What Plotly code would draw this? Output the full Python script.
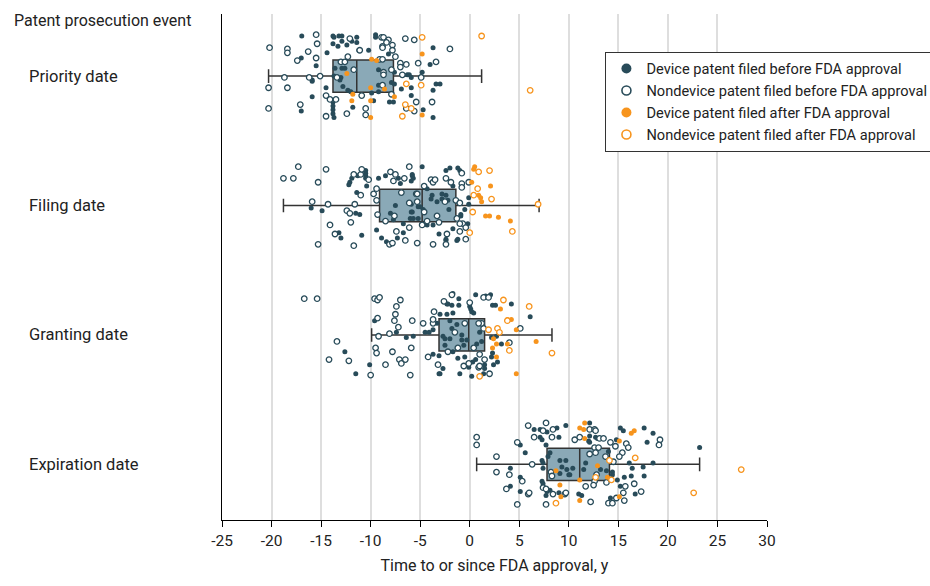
import plotly.graph_objects as go

# ---------------- data ----------------
row_labels = ["Priority date", "Filing date", "Granting date", "Expiration date"]
row_pos = [3, 2, 1, 0]

# box statistics (years)
box_lowerfence = [-20.3, -18.8, -9.9, 0.7]
box_q1 = [-13.8, -9.1, -3.1, 7.8]
box_median = [-11.4, -4.8, -0.1, 11.1]
box_q3 = [-7.7, -1.4, 1.5, 14.1]
box_upperfence = [1.2, 7.0, 8.3, 23.2]

x_ticks = [-25, -20, -15, -10, -5, 0, 5, 10, 15, 20, 25, 30]
x_tick_labels = ["-25", "-20", "-15", "-10", "-5", "0", "5", "10", "15", "20", "25", "30"]

group_names = ["Device patent filed before FDA approval",
               "Nondevice patent filed before FDA approval",
               "Device patent filed after FDA approval",
               "Nondevice patent filed after FDA approval"]

# ---- Priority date ----
pri_dev_before_x = [-16.95, -13.8, -13.7, -13.2, -12.9, -11.9, -11.4, -11.4, -11.2, -13.8, -13.3, -12.9, -12.4,
                    -14.4, -17.0, -15.5, -10.2, -9.5, -9.5, -15.9, -15.9, -14.5, -15.9, -17.0, -13.8, -13.8, -13.8,
                    -13.8, -13.7, -11.8, -13.6, -12.9, -12.6, -13.1, -12.8, -12.3, -12.0, -9.9, -9.7, -9.2, -9.2,
                    -9.2, -8.2, -4.0, -4.8, -6.3, -6.1, -5.9, -7.6, -7.9, -7.6, -3.4, -3.0, -3.7, -5.9, -6.9, -5.9,
                    -8.1, -7.7, -4.7, -3.7, -3.7, -13.7, -13.0]
pri_dev_before_dy = [0.31, 0.31, 0.30, 0.31, 0.31, 0.27, 0.30, 0.26, 0.20, 0.25, 0.23, 0.27, 0.24,
                     0.18, 0.14, 0.08, 0.20, 0.32, 0.30, -0.03, -0.04, -0.09, -0.16, -0.27, -0.20, -0.23, -0.26,
                     -0.29, -0.32, -0.24, 0.06, 0.06, 0.06, -0.03, -0.08, -0.11, -0.12, -0.13, -0.19, 0.05, -0.07,
                     -0.12, 0.17, 0.09, 0.03, 0.01, 0.01, -0.01, 0.03, -0.05, -0.06, -0.06, -0.06, -0.11, -0.09, -0.10, -0.15,
                     -0.20, -0.20, -0.26, -0.32, 0.22, 0.00, -0.01]
pri_nondev_before_x = [-15.5, -12.1, -11.1, -20.2, -18.4, -18.4, -15.4, -16.3, -17.4, -15.5, -12.3, -13.0, -12.6,
                       -20.3, -18.4, -18.7, -16.2, -15.1, -14.5, -14.1, -13.5, -17.1, -20.3, -14.5, -12.4, -10.5,
                       -10.5, -10.9, -11.7, -13.4, -8.9, -8.7, -8.2, -8.4, -7.8, -8.8, -8.8, -7.8, -7.5, -6.5, -5.6,
                       -2.0, -3.4, -5.2, -6.4, -7.0, -7.0, -6.8, -4.9, -7.9, -5.4, -3.8, -6.4, -5.6, -9.1, -8.8,
                       -8.7, -8.7, -7.9, -8.8]
pri_nondev_before_dy = [0.32, 0.29, 0.20, 0.22, 0.21, 0.18, 0.25, 0.19, 0.12, 0.14, 0.15, 0.11, 0.11,
                        -0.09, -0.09, -0.01, -0.01, 0.00, -0.15, -0.18, -0.18, -0.22, -0.25, -0.31, -0.29, -0.25,
                        -0.30, -0.15, 0.05, -0.01, 0.30, 0.30, 0.28, 0.26, 0.24, 0.23, 0.22, 0.20, 0.15, 0.29, 0.28,
                        0.21, 0.11, 0.10, 0.09, 0.10, 0.07, 0.01, -0.01, -0.14, -0.20, -0.20, -0.25, -0.27, 0.13, 0.13,
                        0.03, 0.01, 0.05, -0.07]
pri_dev_after_x = [-9.9, -9.4, -4.8, -10.0, -12.4, -11.8, -11.9, -10.0, -10.0, -8.6, -7.6, -4.8]
pri_dev_after_dy = [0.13, 0.12, 0.17, -0.32, 0.02, -0.14, -0.19, -0.09, -0.19, -0.10, -0.16, -0.30]
pri_nondev_after_x = [-4.8, 1.2, -6.4, -4.9, -6.5, -5.9, -6.8, 6.1]
pri_nondev_after_dy = [0.30, 0.31, -0.06, -0.07, -0.22, -0.25, -0.31, -0.11]

# ---- Filing date ----
fil_dev_before_x = [-16.0, -14.9, -13.2, -13.0, -11.5, -11.1, -11.4, -10.9, -12.1, -12.2, -11.9, -11.3, -10.5,
                    -10.5, -10.5, -10.5, -10.4, -9.2, -8.5, -7.2, -7.0, -5.8, -5.7, -9.4, -8.9, -8.4, -7.3, -6.7,
                    -7.5, -8.0, -7.7, -6.7, -5.9, -6.0, -5.2, -4.8, -5.8, -5.9, -4.3, -2.4, -2.0, -1.2, -1.0, -1.7,
                    -0.1, -0.1, -0.5, -0.9, -0.9, -0.2, -1.7, -2.4, -2.4, -1.3, -1.2, -3.1, -3.7, -4.3, -5.7,
                    -3.8, -3.9, -3.3, -2.8, -2.8, -2.4, -2.1, -2.2, -5.9, -4.7, -5.0, -5.8, -5.2]
fil_dev_before_dy = [-0.02, -0.04, -0.21, -0.25, -0.06, -0.07, 0.10, -0.23, 0.18, 0.16, 0.21, 0.23, 0.27,
                     0.25, 0.23, 0.21, 0.15, 0.21, 0.23, 0.21, 0.17, 0.23, 0.21, -0.19, -0.25, -0.28, -0.25, -0.21,
                     0.00, -0.06, -0.11, -0.14, -0.05, -0.10, -0.10, 0.30, 0.24, 0.19, 0.13, 0.27, 0.29, 0.29, 0.27, 0.15,
                     0.06, 0.01, -0.03, -0.07, -0.08, -0.14, -0.18, -0.26, -0.27, -0.27, -0.26, -0.22, -0.15, -0.15, -0.10,
                     0.08, 0.05, 0.03, 0.09, 0.05, 0.08, -0.03, 0.04, 0.01, -0.03, -0.01, -0.05, -0.01]
fil_nondev_before_x = [-18.8, -17.8, -17.3, -15.3, -14.5, -15.9, -14.3, -14.1, -13.6, -15.3, -11.7, -12.0, -12.4,
                       -12.1, -11.6, -11.0, -11.7, -11.0, -10.9, -10.2, -9.7, -9.4, -9.4, -8.0, -7.5, -7.7, -6.6,
                       -6.1, -9.3, -8.5, -8.1, -7.8, -7.4, -6.5, -6.1, -5.3, -7.6, -6.1, -5.4, -6.9, -4.6, -3.9,
                       -3.7, -3.5, -0.8, -2.4, -1.9, -0.8, -0.8, -0.1, -1.4, -1.0, -0.7, -1.0, -1.3, -0.4, -2.3,
                       -1.0, -0.4, -2.4, -3.7, -4.8, -4.3, -3.1, -3.3, -4.6, -5.3, -5.3, -2.5]
fil_nondev_before_dy = [0.21, 0.21, 0.30, 0.18, 0.28, 0.03, 0.01, -0.15, -0.22, -0.30, -0.31, -0.13, -0.04,
                        -0.06, 0.01, 0.08, 0.24, 0.24, 0.28, 0.20, 0.09, 0.13, 0.04, 0.26, 0.24, 0.19, 0.21,
                        0.30, -0.07, -0.12, -0.30, -0.29, -0.20, -0.27, -0.17, -0.29, -0.08, 0.02, 0.09, 0.10, 0.15, 0.20,
                        0.18, 0.20, 0.25, 0.21, 0.18, 0.17, 0.14, 0.18, 0.04, 0.02, -0.14, -0.14, -0.10, -0.17, -0.22,
                        -0.20, -0.26, -0.30, -0.30, -0.15, -0.12, -0.13, -0.08, -0.05, 0.09, 0.03, 0.03]
fil_dev_after_x = [0.5, 0.4, 0.2, 2.1, 0.9, 1.1, 1.2, 1.6, 2.0, 2.9, 4.1]
fil_dev_after_dy = [0.30, 0.28, 0.18, 0.15, 0.08, 0.06, 0.03, -0.08, -0.08, -0.09, -0.12]
fil_nondev_after_x = [0.9, 2.0, 0.8, 0.4, 2.2, 0.3, 4.3, 0.0, 6.9]
fil_nondev_after_dy = [0.26, 0.27, 0.13, 0.08, 0.05, -0.05, -0.20, -0.21, 0.01]

# ---- Granting date ----
gra_dev_before_x = [-12.6, -11.5, -10.1, -9.6, -7.4, -6.4, -5.7, -4.5, -4.1, -3.7, -3.3, -3.0, -3.7, -3.1, -2.7,
                    -3.1, -2.3, -2.2, -1.7, -1.1, -1.8, -1.1, -2.3, -1.7, 0.0, 0.1, 0.2, 0.4, 0.6, 1.6, 2.1, 2.3,
                    2.6, 4.2, 6.1, 2.2, 2.7, 3.2, 2.3, 2.2, 2.8, 2.4, 1.5, 1.5, 1.4, 0.2, -0.1, 0.3, 0.6, -1.0,
                    -3.0, -1.2, -1.7, -2.0, -1.8, -1.3, -0.8, -0.8, -0.3, -0.6, -2.5, -2.5, -2.7, -2.0, 1.0, 0.7,
                    1.2, -0.5]
gra_dev_before_dy = [-0.13, -0.30, -0.23, 0.11, 0.02, -0.02, -0.01, 0.02, 0.02, 0.04, 0.09, 0.16, -0.15, -0.16, -0.26,
                     -0.30, 0.24, 0.24, 0.32, 0.28, 0.23, 0.23, 0.16, 0.17, 0.22, 0.20, 0.18, 0.17, 0.31, 0.30, 0.31, 0.23,
                     0.23, 0.24, 0.14, -0.02, -0.01, -0.07, -0.14, -0.17, -0.21, -0.23, -0.23, -0.26, -0.30, -0.32, -0.25, -0.21, -0.19, -0.30,
                     -0.30, -0.18, -0.13, 0.11, 0.05, 0.08, 0.00, -0.04, -0.04, -0.08, -0.08, -0.03, -0.01, -0.03, 0.02, -0.07,
                     -0.05, -0.17]
gra_nondev_before_x = [-16.7, -15.4, -13.4, -14.2, -12.2, -10.0, -9.6, -9.3, -9.1, -9.3, -9.2, -9.5, -9.4, -8.5,
                       -8.1, -7.8, -7.0, -7.4, -7.5, -7.6, -7.2, -5.8, -5.9, -7.1, -6.5, -6.9, -6.0, -4.7, -3.6,
                       -3.7, -4.2, -3.2, -2.6, -1.8, 0.0, 1.4, 1.9, 5.1, 4.0, -0.6, -0.1, -2.2, 1.0, 2.0, 0.9,
                       1.0, -1.5, -1.2, 0.4, 1.4, 1.2, 0.9, -0.5, -3.7, 1.5]
gra_nondev_before_dy = [0.28, 0.28, -0.05, -0.19, -0.20, -0.31, 0.28, 0.27, 0.29, 0.13, -0.01, -0.10, -0.14, -0.23,
                        0.01, -0.13, 0.27, 0.22, 0.16, 0.11, 0.06, 0.11, -0.10, -0.19, -0.19, -0.22, -0.31, 0.09, 0.18,
                        0.09, -0.17, -0.23, 0.26, 0.31, 0.25, 0.29, 0.29, 0.05, -0.06, -0.24, -0.22, -0.13, -0.15, -0.30, -0.25,
                        -0.24, 0.02, -0.10, -0.10, 0.05, 0.09, 0.09, 0.09, 0.12, -0.19]
gra_dev_after_x = [3.1, 3.8, 4.2, 4.7, 2.4, 2.7, 3.8, 2.3, 2.7, 4.7, 6.7]
gra_dev_after_dy = [0.20, 0.12, 0.12, 0.04, -0.03, -0.07, -0.07, -0.10, -0.17, -0.30, -0.05]
gra_nondev_after_x = [3.4, 6.0, 3.8, 2.8, 3.0, 1.9, 4.0, 1.0, 8.3]
gra_nondev_after_dy = [0.27, 0.22, 0.11, 0.05, 0.02, 0.04, -0.12, -0.32, -0.14]

# ---- Expiration date ----
exp_dev_before_x = [4.1, 4.1, 5.1, 5.1, 5.1, 5.6, 6.5, 7.1, 7.8, 7.1, 7.3, 7.7, 7.3, 7.4, 7.4, 7.3, 7.4, 8.1, 7.9,
                    8.8, 9.0, 9.7, 12.1, 12.0, 12.9, 9.1, 9.3, 9.8, 10.0, 9.1, 11.0, 11.3, 8.1, 9.0, 12.1, 12.1,
                    12.7, 15.2, 15.5, 17.6, 18.5, 17.9, 14.8, 16.1, 16.4, 17.5, 18.5, 23.2, 14.4, 14.4, 16.3, 17.6,
                    15.6, 14.9, 15.2, 16.7, 14.2, 14.0, 9.7, 10.4, 10.1, 11.7, 11.5, 13.2, 13.8, 7.8, 7.7]
exp_dev_before_dy = [-0.03, -0.17, -0.10, -0.21, 0.15, 0.09, 0.27, 0.27, 0.25, 0.21, 0.19, 0.15, 0.03, 0.01, -0.03, -0.13, -0.15, 0.09, 0.06,
                     0.28, 0.21, 0.30, 0.32, 0.18, 0.20, 0.03, -0.02, -0.04, -0.08, -0.07, -0.23, -0.24, -0.20, -0.22, 0.22, 0.17,
                     0.21, 0.28, 0.26, 0.28, 0.24, 0.17, 0.19, 0.01, -0.03, -0.02, 0.01, 0.13, -0.06, -0.08, -0.09, -0.09,
                     -0.10, -0.12, -0.17, -0.23, -0.26, 0.10, 0.03, -0.03, -0.08, 0.01, -0.04, -0.04, -0.05, -0.21, -0.24]
exp_nondev_before_x = [0.7, 0.7, 2.7, 2.7, 4.0, 3.7, 5.3, 4.8, 5.9, 6.0, 4.8, 5.9, 6.5, 7.4, 7.7, 6.3, 7.4, 7.7, 8.3,
                       8.4, 10.6, 11.1, 12.1, 12.6, 8.2, 8.3, 8.4, 9.6, 9.7, 7.7, 11.7, 12.2, 12.6, 13.0, 12.7, 12.6,
                       12.7, 13.1, 13.5, 19.2, 19.1, 14.2, 14.7, 15.8, 16.0, 15.4, 15.1, 14.5, 13.8, 15.7, 16.6, 17.3,
                       15.5, 14.8, 14.0, 14.4, 15.6, 12.5, 13.7, 12.1, 12.8]
exp_nondev_before_dy = [0.21, 0.15, 0.06, -0.06, -0.08, -0.19, -0.13, -0.31, -0.23, -0.22, 0.17, 0.30, 0.21, 0.26, 0.32, 0.00, -0.18, -0.19, 0.21,
                        0.27, 0.19, 0.21, 0.27, 0.27, -0.06, -0.09, -0.23, -0.23, -0.22, -0.31, -0.17, -0.29, 0.13, 0.13, 0.09, -0.13,
                        0.26, 0.20, 0.20, 0.19, 0.15, 0.17, 0.14, 0.16, 0.13, 0.09, 0.06, 0.02, -0.14, -0.17, -0.15, -0.21,
                        -0.22, -0.26, -0.30, -0.30, -0.28, -0.16, 0.06, 0.08, -0.08]
exp_dev_after_x = [11.1, 11.5, 11.6, 11.6, 8.7, 9.1, 9.2, 11.1, 11.1, 12.9, 15.1, 16.3, 16.6, 13.9, 15.1]
exp_dev_after_dy = [0.28, 0.27, 0.32, 0.20, -0.05, -0.16, -0.25, -0.12, -0.28, -0.01, 0.18, 0.24, 0.26, -0.10, -0.25]
exp_nondev_after_x = [8.7, 12.7, 16.7, 14.1, 14.3, 22.6, 27.4]
exp_nondev_after_dy = [-0.30, -0.10, 0.05, 0.03, -0.12, -0.22, -0.04]

# ---------------- styling ----------------
DARK = "#284b59"
ORANGE = "#f7941d"
BOX_FILL = "#8aa9b7"
TEXT = "#222222"
FONT = "Roboto"

fig = go.Figure()

fig.add_trace(go.Box(
    orientation="h",
    y=row_pos,
    q1=box_q1, median=box_median, q3=box_q3,
    lowerfence=box_lowerfence, upperfence=box_upperfence,
    width=0.25, whiskerwidth=0.42,
    fillcolor=BOX_FILL,
    line=dict(color="#333333", width=1.5),
    boxpoints=False, showlegend=False, hoverinfo="skip",
))

groups_x = [
    [pri_dev_before_x, fil_dev_before_x, gra_dev_before_x, exp_dev_before_x],
    [pri_nondev_before_x, fil_nondev_before_x, gra_nondev_before_x, exp_nondev_before_x],
    [pri_dev_after_x, fil_dev_after_x, gra_dev_after_x, exp_dev_after_x],
    [pri_nondev_after_x, fil_nondev_after_x, gra_nondev_after_x, exp_nondev_after_x],
]
groups_dy = [
    [pri_dev_before_dy, fil_dev_before_dy, gra_dev_before_dy, exp_dev_before_dy],
    [pri_nondev_before_dy, fil_nondev_before_dy, gra_nondev_before_dy, exp_nondev_before_dy],
    [pri_dev_after_dy, fil_dev_after_dy, gra_dev_after_dy, exp_dev_after_dy],
    [pri_nondev_after_dy, fil_nondev_after_dy, gra_nondev_after_dy, exp_nondev_after_dy],
]
group_colors = [DARK, DARK, ORANGE, ORANGE]
group_open = [False, True, False, True]

for gi in range(4):
    xs, ys = [], []
    for ri in range(4):
        xs += groups_x[gi][ri]
        ys += [row_pos[ri] + d for d in groups_dy[gi][ri]]
    if group_open[gi]:
        mk = dict(symbol="circle", size=5.5, color="white",
                  line=dict(color=group_colors[gi], width=1.3))
    else:
        mk = dict(symbol="circle", size=5, color=group_colors[gi], line=dict(width=0))
    fig.add_trace(go.Scatter(x=xs, y=ys, mode="markers", marker=mk,
                             showlegend=False, hoverinfo="skip"))

# legend-only entries (larger symbols)
for gi in range(4):
    if group_open[gi]:
        mk = dict(symbol="circle", size=9, color="white",
                  line=dict(color=group_colors[gi], width=1.6))
    else:
        mk = dict(symbol="circle", size=10, color=group_colors[gi], line=dict(width=0))
    fig.add_trace(go.Scatter(x=[None], y=[None], mode="markers", marker=mk,
                             name=group_names[gi], showlegend=True))

# row labels
annotations = [dict(text="Patent prosecution event", xref="paper", yref="paper",
                    x=-0.385, y=0.988, xanchor="left", yanchor="middle", showarrow=False,
                    font=dict(size=16, color=TEXT, family=FONT))]
for lab, p in zip(row_labels, row_pos):
    annotations.append(dict(text=lab, xref="paper", yref="y", x=-0.358, y=p,
                            xanchor="left", yanchor="middle", showarrow=False,
                            font=dict(size=16.5, color=TEXT, family=FONT)))

fig.update_layout(
    width=930, height=586,
    margin=dict(l=222, r=163, t=14, b=66, autoexpand=False),
    paper_bgcolor="white", plot_bgcolor="white",
    font=dict(family=FONT, color=TEXT, size=15),
    annotations=annotations,
    legend=dict(xref="container", yref="container", x=0.651, y=0.912,
                xanchor="left", yanchor="top",
                bordercolor="#333333", borderwidth=1, bgcolor="white",
                font=dict(size=14.6, color=TEXT, family=FONT),
                tracegroupgap=0, itemsizing="trace"),
    xaxis=dict(range=[-25, 30], tickvals=x_ticks, ticktext=x_tick_labels,
               showgrid=True, gridcolor="#dedede", gridwidth=1.5, zeroline=False,
               showline=True, linecolor="black", linewidth=1,
               ticks="outside", ticklen=6, tickcolor="black",
               tickfont=dict(size=15.5, color=TEXT),
               title=dict(text="Time to or since FDA approval, y", standoff=11,
                          font=dict(size=16, color=TEXT))),
    yaxis=dict(range=[-0.43, 3.48], showgrid=False, zeroline=False, showticklabels=False,
               showline=True, linecolor="black", linewidth=1, ticks=""),
)

fig.write_html("out.html", config={"responsive": False, "displayModeBar": False},
               post_script="document.body.style.margin='0';document.body.style.padding='0';")
